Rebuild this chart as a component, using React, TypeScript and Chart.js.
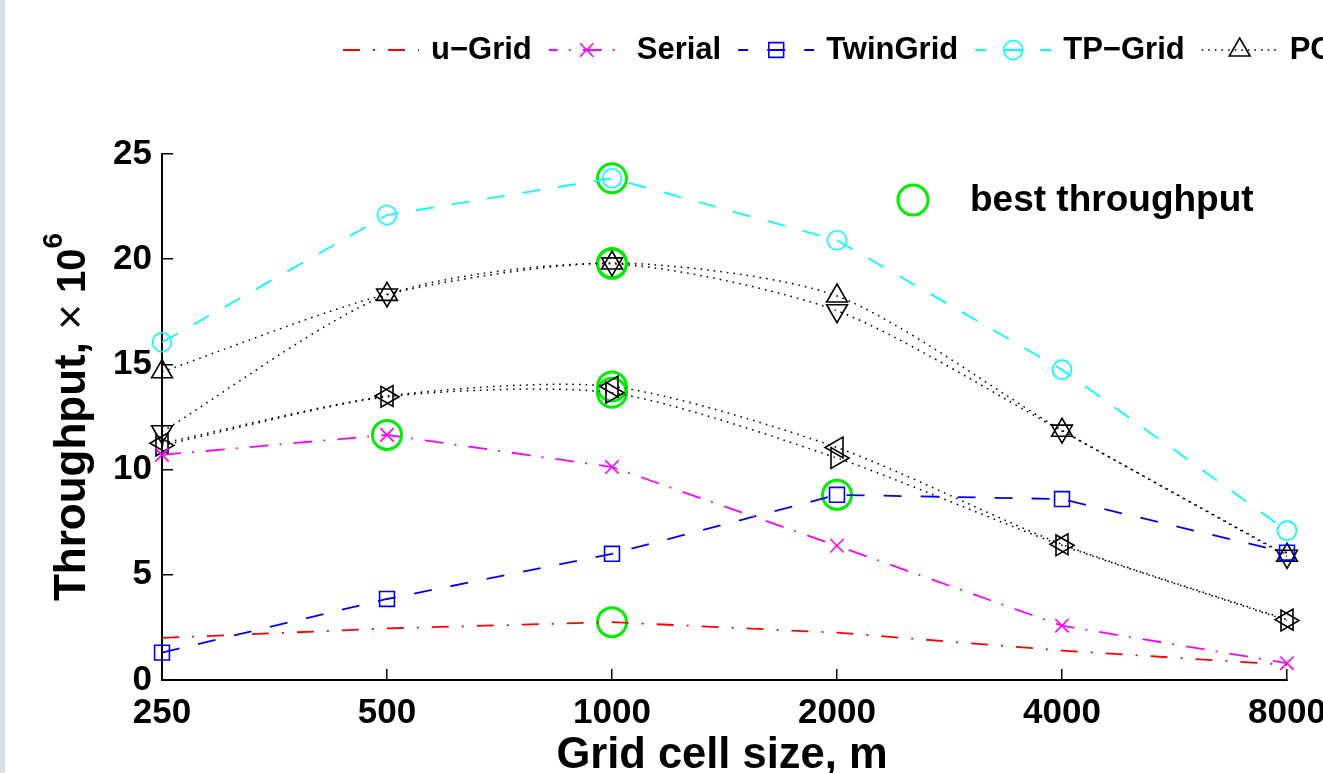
import React, { useEffect, useRef } from 'react';
import { Chart, registerables } from 'chart.js';
import { drawPoint } from 'chart.js/helpers';

Chart.register(...registerables);

const categories = ['250', '500', '1000', '2000', '4000', '8000'];
const uGrid = [2.0, 2.45, 2.75, 2.25, 1.4, 0.72];
const serial = [10.7, 11.65, 10.12, 6.38, 2.58, 0.8];
const twinGrid = [1.3, 3.85, 6.0, 8.8, 8.6, 6.05];
const tpGrid = [16.05, 22.1, 23.85, 20.9, 14.75, 7.1];
const pcUp = [14.65, 18.33, 19.82, 18.25, 11.87, 5.93];
const pcDown = [11.8, 18.3, 19.78, 17.55, 11.83, 5.88];
const pcLeft = [11.25, 13.5, 13.95, 11.05, 6.45, 2.87];
const pcRight = [11.15, 13.46, 13.65, 10.55, 6.4, 2.83];
const bestX = ['500', '1000', '1000', '1000', '1000', '1000', '1000', '2000'];
const bestY = [11.65, 2.75, 23.85, 19.82, 19.78, 13.95, 13.65, 8.8];
const yMin = 0;
const yMax = 25;
const yStep = 5;

const FONT = '"Liberation Sans", Arial, Helvetica, sans-serif';
const GREEN = '#00ee00';

const overlayPlugin = {
  id: 'overlay',
  afterDraw(chart: any) {
    const ctx = chart.ctx as CanvasRenderingContext2D;
    const area = chart.chartArea;
    const sets = chart.data.datasets.filter((d: any) => !d.isBest);

    // top legend
    ctx.save();
    let x = 343;
    const y = 50;
    ctx.font = `bold 31px ${FONT}`;
    for (const ds of sets) {
      if (x > chart.width) break;
      ctx.save();
      ctx.strokeStyle = ds.borderColor;
      ctx.lineWidth = ds.borderWidth;
      ctx.setLineDash(ds.borderDash || []);
      ctx.lineDashOffset = ds.legendDashOffset || 0;
      ctx.beginPath();
      ctx.moveTo(x, y);
      ctx.lineTo(x + 76, y);
      ctx.stroke();
      ctx.setLineDash([]);
      if (ds.pointRadius > 0) {
        ctx.fillStyle = 'rgba(0,0,0,0)';
        ctx.strokeStyle = ds.pointBorderColor || ds.borderColor;
        ctx.lineWidth = ds.pointBorderWidth;
        drawPoint(ctx, {
          pointStyle: ds.pointStyle,
          radius: ds.pointRadius,
          rotation: ds.pointRotation || 0,
          borderWidth: ds.pointBorderWidth,
        } as any, x + 38, y);
      }
      ctx.restore();
      ctx.fillStyle = '#000';
      ctx.textBaseline = 'middle';
      ctx.textAlign = 'left';
      ctx.fillText(ds.label, x + 88, y);
      x += 88 + ctx.measureText(ds.label).width + 17;
    }
    ctx.restore();

    // best throughput legend
    ctx.save();
    ctx.strokeStyle = GREEN;
    ctx.lineWidth = 3;
    ctx.beginPath();
    ctx.arc(913, 200, 15, 0, Math.PI * 2);
    ctx.stroke();
    ctx.fillStyle = '#000';
    ctx.font = `bold 37px ${FONT}`;
    ctx.textBaseline = 'middle';
    ctx.textAlign = 'left';
    ctx.fillText('best throughput', 970, 201);
    ctx.restore();

    // x title
    ctx.save();
    ctx.fillStyle = '#000';
    ctx.font = `bold 43.5px ${FONT}`;
    ctx.textAlign = 'center';
    ctx.textBaseline = 'alphabetic';
    ctx.fillText('Grid cell size, m', 722, 768);
    ctx.restore();

    // y title
    ctx.save();
    ctx.fillStyle = '#000';
    ctx.translate(85, (area.top + area.bottom) / 2);
    ctx.rotate(-Math.PI / 2);
    const parts = [
      { t: 'Throughput, ', f: `bold 44px ${FONT}`, dy: 0 },
      { t: '×', f: `44px ${FONT}`, dy: 0 },
      { t: ' 10', f: `bold 40px ${FONT}`, dy: 0 },
      { t: '6', f: `bold 28px ${FONT}`, dy: -23 },
    ];
    let total = 0;
    for (const p of parts) {
      ctx.font = p.f;
      total += ctx.measureText(p.t).width;
    }
    let px = -total / 2;
    ctx.textBaseline = 'alphabetic';
    ctx.textAlign = 'left';
    for (const p of parts) {
      ctx.font = p.f;
      ctx.fillText(p.t, px, p.dy);
      px += ctx.measureText(p.t).width;
    }
    ctx.restore();
  },
};

function lineSet(label: string, data: number[], color: string, dash: number[], style: any, radius: number, rotation = 0, tension = 0, legendDashOffset = 0, width = 1.8) {
  return {
    label,
    data,
    borderColor: color,
    borderWidth: width,
    borderDash: dash,
    legendDashOffset,
    pointStyle: style,
    pointRadius: radius,
    pointRotation: rotation,
    pointBorderColor: color,
    pointBackgroundColor: 'rgba(0,0,0,0)',
    pointBorderWidth: 1.6,
    pointHoverRadius: radius,
    fill: false,
    tension,
    clip: false,
  };
}

export default function App() {
  const ref = useRef<HTMLCanvasElement | null>(null);
  useEffect(() => {
    if (!ref.current) return;
    document.body.style.margin = '0';
    Chart.defaults.font.family = FONT;
    const dot = [1.6, 5];
    const datasets: any[] = [
      lineSet('u−Grid', uGrid, '#ff0000', [17, 13, 2, 13], false, 0, 0, 0, 0),
      lineSet('Serial', serial, '#ff00ff', [19, 11, 2, 12], 'crossRot', 9.5, 0, 0, 10),
      lineSet('TwinGrid', twinGrid, '#0000ff', [18, 19], 'rect', 10.5, 0, 0, 8),
      lineSet('TP−Grid', tpGrid, '#00ffff', [18, 18], 'circle', 9.5, 0, 0, 7),
      lineSet('PC−Grid', pcUp, '#000000', dot, 'triangle', 12, 0, 0.25, 0, 1.5),
      lineSet('PC−Grid (v)', pcDown, '#000000', dot, 'triangle', 12, 180, 0.25, 0, 1.5),
      lineSet('PC−Grid (<)', pcLeft, '#000000', dot, 'triangle', 12, 270, 0.25, 0, 1.5),
      lineSet('PC−Grid (>)', pcRight, '#000000', dot, 'triangle', 12, 90, 0.25, 0, 1.5),
      {
        label: 'best throughput',
        isBest: true,
        data: bestX.map((c, i) => ({ x: c, y: bestY[i] })),
        showLine: false,
        pointStyle: 'circle',
        pointRadius: 14.5,
        pointHoverRadius: 14.5,
        pointBorderWidth: 3,
        pointBorderColor: GREEN,
        pointBackgroundColor: 'rgba(0,0,0,0)',
        borderColor: GREEN,
        clip: false,
        order: 10,
      },
    ];
    const chart = new Chart(ref.current, {
      type: 'line',
      data: { labels: categories, datasets },
      plugins: [overlayPlugin],
      options: {
        animation: false,
        responsive: false,
        devicePixelRatio: 1,
        layout: { padding: { top: 154, right: 36, left: 0, bottom: 0 } },
        plugins: { legend: { display: false }, tooltip: { enabled: false }, title: { display: false } },
        scales: {
          x: {
            type: 'category',
            offset: false,
            grid: { display: true, drawOnChartArea: false, drawTicks: true, tickLength: -11, color: '#000', lineWidth: 1.5 },
            border: { display: true, color: '#000', width: 2 },
            ticks: { autoSkip: false, maxRotation: 0, minRotation: 0, padding: 23, color: '#000', font: { size: 35, weight: 'bold', family: FONT } },
            afterFit(scale: any) {
              scale.height = 93;
              scale.paddingLeft = 0;
              scale.paddingRight = 0;
            },
          },
          y: {
            min: yMin,
            max: yMax,
            grid: { display: true, drawOnChartArea: false, drawTicks: true, tickLength: -11, color: '#000', lineWidth: 1.5 },
            border: { display: true, color: '#000', width: 2 },
            ticks: { stepSize: yStep, padding: 21, color: '#000', font: { size: 35, weight: 'bold', family: FONT } },
            afterFit(scale: any) {
              scale.width = 162;
              scale.paddingTop = 0;
              scale.paddingBottom = 0;
            },
          },
        },
      } as any,
    });
    return () => chart.destroy();
  }, []);
  return (
    <div style={{ position: 'fixed', left: 0, top: 0, width: 1323, height: 773, background: '#fff' }}>
      <canvas ref={ref} width={1323} height={773} style={{ display: 'block' }} />
      <div style={{ position: 'absolute', left: 0, top: 0, width: 5, height: 773, background: '#d8dfe6' }} />
    </div>
  );
}
